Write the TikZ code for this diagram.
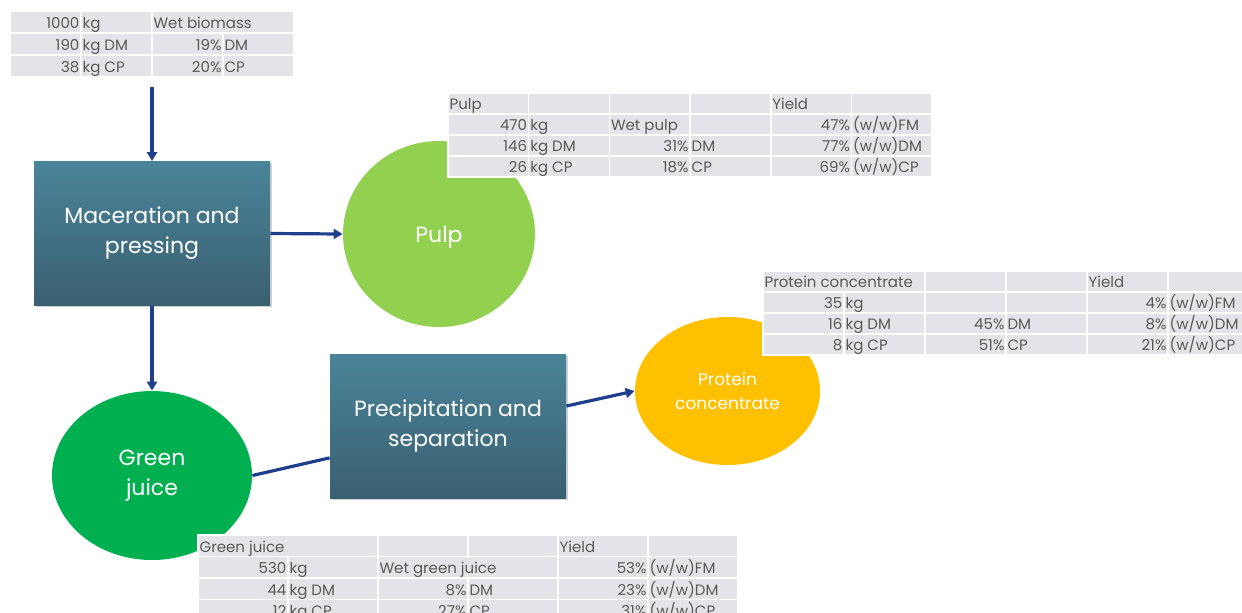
\documentclass[tikz,border=0pt]{standalone}
\usepackage{fontspec}
\setmainfont{Poppins}
\usetikzlibrary{calc}
\usetikzlibrary{shapes.geometric,arrows.meta,shadows}
\usepackage{xcolor}
\definecolor{boxtop}{HTML}{4A8499}
\definecolor{boxbottom}{HTML}{3A5F70}
\definecolor{pulpgreen}{HTML}{92D050}
\definecolor{juicegreen}{HTML}{00B050}
\definecolor{proteinorange}{HTML}{FFC000}
\definecolor{flowblue}{HTML}{1F3F8C}
\definecolor{tablegray}{HTML}{E4E4E8}
\definecolor{tabletext}{HTML}{595959}

\tikzset{
  process/.style={rectangle, top color=boxtop, bottom color=boxbottom, draw=none, text=white, align=center,
    font=\fontsize{11}{15}\selectfont, minimum width=118pt, minimum height=72pt,
    drop shadow={shadow xshift=0.8pt, shadow yshift=-0.8pt, opacity=0.35}},
  product/.style={ellipse, draw=none, text=white, align=center, font=\fontsize{11}{15}\selectfont, inner sep=0pt},
  flow/.style={line width=1.6pt, flowblue, -{Triangle[length=4.5pt, width=5pt]}},
  tabcell/.style={fill=tablegray, draw=white, line width=0.75pt},
  tabtext/.style={text=tabletext, font=\fontsize{7.5}{9}\selectfont, inner xsep=0.6pt, inner ysep=0pt,
    text height=6.6pt, text depth=0.2pt},
}

\begin{document}
\begin{tikzpicture}[x=0.5pt, y=-0.5pt]
\clip (0,0) rectangle (1242,612);
\fill[white] (0,0) rectangle (1242,612);

% process steps
\node[process] (maceration) at (152,233.5) {Maceration and\\pressing};
\node[process] (precipitation) at (448,426) {Precipitation and\\separation};

% products
\node[product, fill=pulpgreen, minimum width=96pt, minimum height=93pt, text depth=0pt] (pulp) at (439,234) {Pulp};
\node[product, fill=juicegreen, minimum width=100pt, minimum height=84.5pt] (juice) at (152,475.5) {Green\\juice};
\node[product, fill=proteinorange, minimum width=92.5pt, minimum height=74pt,
  font=\fontsize{8.5}{12}\selectfont] (protein) at (727.5,391) {Protein\\concentrate};

\coordinate (biomass) at (152,87);
\draw[flow] (biomass) -- (maceration.north);
\draw[flow] (maceration.east) -- (pulp.west);
\draw[flow] (maceration.south) -- (juice.north);
\draw[line width=1.6pt, flowblue] (juice.east) -- ($(precipitation.south west)!0.28!(precipitation.north west)$);
\draw[flow] ($(precipitation.east)+(0,10pt)$) -- (protein.west);

% wet biomass table
\pgfmathsetmacro{\bx}{10}
\pgfmathsetmacro{\by}{11}
\pgfmathsetmacro{\bw}{71}
\pgfmathsetmacro{\bh}{22}
\foreach \c in {0,...,3} \foreach \r in {0,...,2}
  \draw[tabcell] ({\bx+\c*\bw},{\by+\r*\bh}) rectangle ++(\bw,\bh);
\fill[tablegray] ({\bx+2*\bw+1},{\by+1}) rectangle ({\bx+4*\bw-1},{\by+\bh-1});
\foreach \b/\r/\a/\t [count=\i] in {1/0/east/1000, 1/0/west/kg, 2/0/west/Wet biomass,
    1/1/east/190, 1/1/west/kg DM, 3/1/east/19\%, 3/1/west/DM,
    1/2/east/38, 1/2/west/kg CP, 3/2/east/20\%, 3/2/west/CP}
  \node[tabtext, anchor=\a] (biomass-\i) at ({\bx+\b*\bw},{\by+(\r+0.5)*\bh}) {\t};

% pulp table
\pgfmathsetmacro{\px}{448}
\pgfmathsetmacro{\py}{93}
\pgfmathsetmacro{\pw}{80.7}
\pgfmathsetmacro{\ph}{21}
\foreach \c in {0,...,5} \foreach \r in {0,...,3}
  \draw[tabcell] ({\px+\c*\pw},{\py+\r*\ph}) rectangle ++(\pw,\ph);
\foreach \b/\r/\a/\t [count=\i] in {0/0/west/Pulp, 4/0/west/Yield,
    1/1/east/470, 1/1/west/kg, 2/1/west/Wet pulp, 5/1/east/47\%, 5/1/west/{(w/w)FM},
    1/2/east/146, 1/2/west/kg DM, 3/2/east/31\%, 3/2/west/DM, 5/2/east/77\%, 5/2/west/{(w/w)DM},
    1/3/east/26, 1/3/west/kg CP, 3/3/east/18\%, 3/3/west/CP, 5/3/east/69\%, 5/3/west/{(w/w)CP}}
  \node[tabtext, anchor=\a] (pulp-\i) at ({\px+\b*\pw},{\py+(\r+0.5)*\ph}) {\t};

% protein table
\pgfmathsetmacro{\qx}{763}
\pgfmathsetmacro{\qy}{271}
\pgfmathsetmacro{\qw}{81}
\pgfmathsetmacro{\qh}{21}
\foreach \c in {0,...,5} \foreach \r in {0,...,3}
  \draw[tabcell] ({\qx+\c*\qw},{\qy+\r*\qh}) rectangle ++(\qw,\qh);
\fill[tablegray] ({\qx+1},{\qy+1}) rectangle ({\qx+2*\qw-1},{\qy+\qh-1});
\foreach \b/\r/\a/\t [count=\i] in {0/0/west/Protein concentrate, 4/0/west/Yield,
    1/1/east/35, 1/1/west/kg, 5/1/east/4\%, 5/1/west/{(w/w)FM},
    1/2/east/16, 1/2/west/kg DM, 3/2/east/45\%, 3/2/west/DM, 5/2/east/8\%, 5/2/west/{(w/w)DM},
    1/3/east/8, 1/3/west/kg CP, 3/3/east/51\%, 3/3/west/CP, 5/3/east/21\%, 5/3/west/{(w/w)CP}}
  \node[tabtext, anchor=\a] (protein-\i) at ({\qx+\b*\qw},{\qy+(\r+0.5)*\qh}) {\t};

% green juice table
\pgfmathsetmacro{\gx}{198}
\pgfmathsetmacro{\gy}{535}
\pgfmathsetmacro{\gw}{90}
\pgfmathsetmacro{\gh}{21.5}
\foreach \c in {0,...,5} \foreach \r in {0,...,3}
  \draw[tabcell] ({\gx+\c*\gw},{\gy+\r*\gh}) rectangle ++(\gw,\gh);
\fill[tablegray] ({\gx+1},{\gy+1}) rectangle ({\gx+2*\gw-1},{\gy+\gh-1});
\fill[tablegray] ({\gx+2*\gw+1},{\gy+\gh+1}) rectangle ({\gx+4*\gw-1},{\gy+2*\gh-1});
\foreach \b/\r/\a/\t [count=\i] in {0/0/west/Green juice, 4/0/west/Yield,
    1/1/east/530, 1/1/west/kg, 2/1/west/Wet green juice, 5/1/east/53\%, 5/1/west/{(w/w)FM},
    1/2/east/44, 1/2/west/kg DM, 3/2/east/8\%, 3/2/west/DM, 5/2/east/23\%, 5/2/west/{(w/w)DM},
    1/3/east/12, 1/3/west/kg CP, 3/3/east/27\%, 3/3/west/CP, 5/3/east/31\%, 5/3/west/{(w/w)CP}}
  \node[tabtext, anchor=\a] (juice-\i) at ({\gx+\b*\gw},{\gy+(\r+0.5)*\gh}) {\t};
\end{tikzpicture}
\end{document}
